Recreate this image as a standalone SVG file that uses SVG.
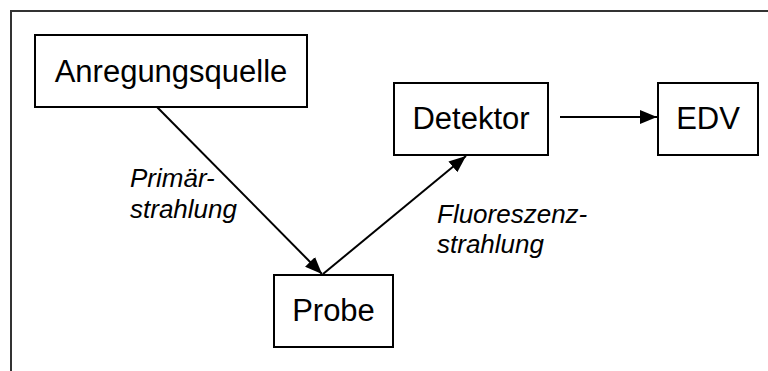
<svg xmlns="http://www.w3.org/2000/svg" width="768" height="371" viewBox="0 0 768 371">
  <style>
    .box { fill: #ffffff; stroke: #000000; stroke-width: 2; }
    .lbl { font-family: "Liberation Sans", Arial, sans-serif; font-size: 31px; fill: #000000; text-anchor: middle; }
    .note { font-family: "Liberation Sans", Arial, sans-serif; font-size: 26px; font-style: italic; fill: #000000; }
    .edge { stroke: #000000; stroke-width: 2; fill: none; marker-end: url(#head); }
    .frame { stroke: #333333; stroke-width: 2; fill: none; }
  </style>
  <defs>
    <marker id="head" markerUnits="userSpaceOnUse" markerWidth="18" markerHeight="14" refX="17" refY="7" orient="auto">
      <path d="M0,0 L17,7 L0,14 Z" fill="#000000"/>
    </marker>
  </defs>

  <rect width="768" height="371" fill="#ffffff"/>

  <!-- outer frame (top and left edge) -->
  <path class="frame" d="M768,11 H11 V371"/>

  <g id="anregungsquelle">
    <rect class="box" x="35" y="35" width="272" height="72"/>
    <text class="lbl" x="171" y="82">Anregungsquelle</text>
  </g>

  <g id="probe">
    <rect class="box" x="274" y="275" width="119" height="72"/>
    <text class="lbl" x="333.5" y="321">Probe</text>
  </g>

  <g id="detektor">
    <rect class="box" x="394" y="83" width="154" height="72"/>
    <text class="lbl" x="471" y="129">Detektor</text>
  </g>

  <g id="edv">
    <rect class="box" x="658" y="83" width="100" height="72"/>
    <text class="lbl" x="708" y="129">EDV</text>
  </g>

  <g id="connectors">
    <line class="edge" x1="157" y1="107" x2="322" y2="274"/>
    <line class="edge" x1="323" y1="274" x2="466" y2="156"/>
    <line class="edge" x1="560" y1="117" x2="657" y2="117"/>
  </g>

  <g id="labels">
    <text class="note" x="130" y="187">Primär-</text>
    <text class="note" x="130" y="218">strahlung</text>
    <text class="note" x="437" y="223">Fluoreszenz-</text>
    <text class="note" x="437" y="253">strahlung</text>
  </g>
</svg>
